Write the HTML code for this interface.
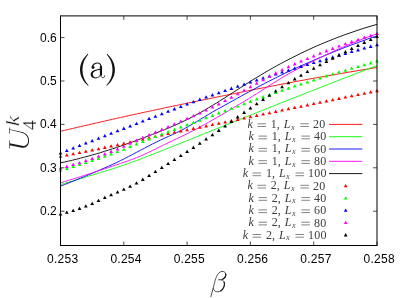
<!DOCTYPE html><html><head><meta charset="utf-8"><title>U4k</title><style>html,body{margin:0;padding:0;background:#fff}svg{display:block;will-change:transform}.sans{font-family:"Liberation Sans",sans-serif}.serif{font-family:"Liberation Serif",serif}</style></head><body><svg width="407" height="298" viewBox="0 0 407 298">
<polyline points="60.5,131.3 64.5,130.4 68.5,129.4 72.5,128.5 76.5,127.5 80.5,126.6 84.5,125.7 88.5,124.8 92.6,123.8 96.6,122.9 100.6,122.0 104.6,121.1 108.6,120.2 112.6,119.3 116.6,118.4 120.6,117.5 124.6,116.6 128.6,115.7 132.6,114.8 136.6,114.0 140.6,113.1 144.6,112.2 148.6,111.4 152.6,110.5 156.7,109.6 160.7,108.8 164.7,107.9 168.7,107.1 172.7,106.2 176.7,105.4 180.7,104.6 184.7,103.7 188.7,102.9 192.7,102.1 196.7,101.2 200.7,100.4 204.7,99.6 208.7,98.8 212.7,98.0 216.7,97.1 220.8,96.3 224.8,95.5 228.8,94.7 232.8,93.9 236.8,93.1 240.8,92.3 244.8,91.5 248.8,90.6 252.8,89.8 256.8,89.0 260.8,88.3 264.8,87.5 268.8,86.7 272.8,85.9 276.8,85.1 280.8,84.3 284.9,83.6 288.9,82.8 292.9,82.1 296.9,81.3 300.9,80.6 304.9,79.9 308.9,79.1 312.9,78.4 316.9,77.7 320.9,77.0 324.9,76.3 328.9,75.6 332.9,74.9 336.9,74.2 340.9,73.5 344.9,72.8 349.0,72.1 353.0,71.4 357.0,70.8 361.0,70.1 365.0,69.5 369.0,68.8 373.0,68.1 377.0,67.5" fill="none" stroke="#ff0000" stroke-width="0.9"/>
<polyline points="60.5,184.6 64.5,183.4 68.5,182.2 72.5,181.0 76.5,179.8 80.5,178.6 84.5,177.4 88.5,176.1 92.6,174.9 96.6,173.7 100.6,172.5 104.6,171.3 108.6,170.0 112.6,168.8 116.6,167.5 120.6,166.1 124.6,164.8 128.6,163.4 132.6,161.9 136.6,160.5 140.6,159.0 144.6,157.4 148.6,155.9 152.6,154.3 156.7,152.7 160.7,151.2 164.7,149.6 168.7,148.0 172.7,146.4 176.7,144.8 180.7,143.2 184.7,141.6 188.7,140.0 192.7,138.4 196.7,136.8 200.7,135.1 204.7,133.5 208.7,131.9 212.7,130.3 216.7,128.7 220.8,127.1 224.8,125.5 228.8,123.9 232.8,122.3 236.8,120.7 240.8,119.1 244.8,117.4 248.8,115.8 252.8,114.2 256.8,112.6 260.8,111.0 264.8,109.4 268.8,107.8 272.8,106.2 276.8,104.6 280.8,103.0 284.9,101.4 288.9,99.8 292.9,98.2 296.9,96.7 300.9,95.1 304.9,93.5 308.9,91.9 312.9,90.4 316.9,88.8 320.9,87.2 324.9,85.7 328.9,84.1 332.9,82.5 336.9,81.0 340.9,79.4 344.9,77.9 349.0,76.3 353.0,74.8 357.0,73.2 361.0,71.7 365.0,70.1 369.0,68.6 373.0,67.0 377.0,65.5" fill="none" stroke="#00ff00" stroke-width="0.9"/>
<polyline points="60.5,186.2 64.5,184.6 68.5,183.0 72.5,181.4 76.5,179.8 80.5,178.2 84.5,176.5 88.5,174.8 92.6,173.1 96.6,171.4 100.6,169.7 104.6,167.9 108.6,166.2 112.6,164.4 116.6,162.5 120.6,160.6 124.6,158.6 128.6,156.5 132.6,154.4 136.6,152.3 140.6,150.2 144.6,148.1 148.6,146.0 152.6,143.9 156.7,141.9 160.7,140.0 164.7,138.1 168.7,136.3 172.7,134.5 176.7,132.6 180.7,130.7 184.7,128.5 188.7,126.3 192.7,124.0 196.7,121.6 200.7,119.1 204.7,116.7 208.7,114.3 212.7,111.9 216.7,109.7 220.8,107.5 224.8,105.2 228.8,103.0 232.8,100.8 236.8,98.5 240.8,96.3 244.8,94.1 248.8,92.0 252.8,89.8 256.8,87.6 260.8,85.5 264.8,83.4 268.8,81.3 272.8,79.3 276.8,77.3 280.8,75.3 284.9,73.3 288.9,71.4 292.9,69.5 296.9,67.7 300.9,65.9 304.9,64.1 308.9,62.4 312.9,60.6 316.9,58.9 320.9,57.2 324.9,55.5 328.9,53.8 332.9,52.2 336.9,50.6 340.9,49.0 344.9,47.4 349.0,45.9 353.0,44.4 357.0,42.9 361.0,41.4 365.0,40.0 369.0,38.5 373.0,37.2 377.0,35.8" fill="none" stroke="#0000ff" stroke-width="0.9"/>
<polyline points="60.5,182.8 64.5,181.6 68.5,180.4 72.5,179.2 76.5,177.9 80.5,176.7 84.5,175.4 88.5,174.1 92.6,172.8 96.6,171.5 100.6,170.2 104.6,168.8 108.6,167.5 112.6,166.1 116.6,164.8 120.6,163.4 124.6,162.0 128.6,160.7 132.6,159.2 136.6,157.7 140.6,156.0 144.6,154.2 148.6,152.4 152.6,150.4 156.7,148.5 160.7,146.5 164.7,144.5 168.7,142.6 172.7,140.6 176.7,138.7 180.7,136.8 184.7,134.9 188.7,132.9 192.7,130.9 196.7,128.8 200.7,126.7 204.7,124.4 208.7,122.2 212.7,119.9 216.7,117.6 220.8,115.3 224.8,112.9 228.8,110.6 232.8,108.2 236.8,105.8 240.8,103.4 244.8,101.0 248.8,98.6 252.8,96.1 256.8,93.6 260.8,91.1 264.8,88.5 268.8,85.9 272.8,83.4 276.8,80.9 280.8,78.4 284.9,76.0 288.9,73.7 292.9,71.5 296.9,69.3 300.9,67.3 304.9,65.2 308.9,63.2 312.9,61.2 316.9,59.2 320.9,57.3 324.9,55.4 328.9,53.5 332.9,51.6 336.9,49.8 340.9,48.0 344.9,46.3 349.0,44.5 353.0,42.9 357.0,41.3 361.0,39.7 365.0,38.1 369.0,36.6 373.0,35.2 377.0,33.8" fill="none" stroke="#ff00ff" stroke-width="0.9"/>
<polyline points="60.5,162.8 64.5,162.0 68.5,161.1 72.5,160.2 76.5,159.2 80.5,158.2 84.5,157.1 88.5,156.0 92.6,154.9 96.6,153.8 100.6,152.6 104.6,151.3 108.6,150.1 112.6,148.8 116.6,147.5 120.6,146.1 124.6,144.7 128.6,143.3 132.6,141.9 136.6,140.4 140.6,138.9 144.6,137.4 148.6,135.9 152.6,134.4 156.7,132.8 160.7,131.2 164.7,129.6 168.7,127.9 172.7,126.2 176.7,124.4 180.7,122.6 184.7,120.7 188.7,118.8 192.7,116.7 196.7,114.6 200.7,112.4 204.7,110.1 208.7,107.7 212.7,105.3 216.7,102.9 220.8,100.3 224.8,97.8 228.8,95.2 232.8,92.6 236.8,90.1 240.8,87.5 244.8,84.9 248.8,82.4 252.8,79.8 256.8,77.4 260.8,75.0 264.8,72.6 268.8,70.3 272.8,68.0 276.8,65.7 280.8,63.6 284.9,61.4 288.9,59.3 292.9,57.3 296.9,55.3 300.9,53.3 304.9,51.4 308.9,49.5 312.9,47.7 316.9,45.9 320.9,44.2 324.9,42.5 328.9,40.9 332.9,39.3 336.9,37.7 340.9,36.2 344.9,34.7 349.0,33.3 353.0,31.9 357.0,30.5 361.0,29.2 365.0,27.9 369.0,26.7 373.0,25.5 377.0,24.4" fill="none" stroke="#000000" stroke-width="0.9"/>
<g><path d="M58.6 157.7L62.4 157.7L60.5 154.4Z" fill="#ff0000"/><path d="M64.9 156.5L68.7 156.5L66.8 153.2Z" fill="#ff0000"/><path d="M71.3 155.3L75.1 155.3L73.2 152.0Z" fill="#ff0000"/><path d="M77.6 154.0L81.4 154.0L79.5 150.7Z" fill="#ff0000"/><path d="M83.9 152.8L87.7 152.8L85.8 149.5Z" fill="#ff0000"/><path d="M90.2 151.5L94.1 151.5L92.2 148.2Z" fill="#ff0000"/><path d="M96.6 150.2L100.4 150.2L98.5 146.9Z" fill="#ff0000"/><path d="M102.9 148.9L106.7 148.9L104.8 145.6Z" fill="#ff0000"/><path d="M109.2 147.6L113.0 147.6L111.1 144.3Z" fill="#ff0000"/><path d="M115.6 146.3L119.4 146.3L117.5 143.0Z" fill="#ff0000"/><path d="M121.9 144.9L125.7 144.9L123.8 141.6Z" fill="#ff0000"/><path d="M128.2 143.6L132.0 143.6L130.1 140.3Z" fill="#ff0000"/><path d="M134.6 142.2L138.4 142.2L136.5 138.9Z" fill="#ff0000"/><path d="M140.9 140.8L144.7 140.8L142.8 137.5Z" fill="#ff0000"/><path d="M147.2 139.3L151.0 139.3L149.1 136.0Z" fill="#ff0000"/><path d="M153.5 137.9L157.3 137.9L155.4 134.6Z" fill="#ff0000"/><path d="M159.9 136.5L163.7 136.5L161.8 133.2Z" fill="#ff0000"/><path d="M166.2 135.1L170.0 135.1L168.1 131.8Z" fill="#ff0000"/><path d="M172.5 133.7L176.3 133.7L174.4 130.4Z" fill="#ff0000"/><path d="M178.9 132.5L182.7 132.5L180.8 129.2Z" fill="#ff0000"/><path d="M185.2 131.2L189.0 131.2L187.1 127.9Z" fill="#ff0000"/><path d="M191.5 129.9L195.3 129.9L193.4 126.6Z" fill="#ff0000"/><path d="M197.9 128.7L201.7 128.7L199.8 125.4Z" fill="#ff0000"/><path d="M204.2 127.4L208.0 127.4L206.1 124.1Z" fill="#ff0000"/><path d="M210.5 126.1L214.3 126.1L212.4 122.8Z" fill="#ff0000"/><path d="M216.8 124.8L220.7 124.8L218.8 121.5Z" fill="#ff0000"/><path d="M223.2 123.5L227.0 123.5L225.1 120.2Z" fill="#ff0000"/><path d="M229.5 122.2L233.3 122.2L231.4 118.9Z" fill="#ff0000"/><path d="M235.8 120.9L239.6 120.9L237.7 117.6Z" fill="#ff0000"/><path d="M242.2 119.5L246.0 119.5L244.1 116.2Z" fill="#ff0000"/><path d="M248.5 118.2L252.3 118.2L250.4 114.9Z" fill="#ff0000"/><path d="M254.8 116.9L258.6 116.9L256.7 113.6Z" fill="#ff0000"/><path d="M261.2 115.6L265.0 115.6L263.1 112.3Z" fill="#ff0000"/><path d="M267.5 114.2L271.3 114.2L269.4 110.9Z" fill="#ff0000"/><path d="M273.8 112.9L277.6 112.9L275.7 109.6Z" fill="#ff0000"/><path d="M280.2 111.6L283.9 111.6L282.1 108.3Z" fill="#ff0000"/><path d="M286.5 110.3L290.3 110.3L288.4 107.0Z" fill="#ff0000"/><path d="M292.8 109.0L296.6 109.0L294.7 105.7Z" fill="#ff0000"/><path d="M299.1 107.7L302.9 107.7L301.0 104.4Z" fill="#ff0000"/><path d="M305.5 106.4L309.3 106.4L307.4 103.1Z" fill="#ff0000"/><path d="M311.8 105.1L315.6 105.1L313.7 101.8Z" fill="#ff0000"/><path d="M318.1 103.8L321.9 103.8L320.0 100.5Z" fill="#ff0000"/><path d="M324.5 102.5L328.3 102.5L326.4 99.2Z" fill="#ff0000"/><path d="M330.8 101.2L334.6 101.2L332.7 97.9Z" fill="#ff0000"/><path d="M337.1 99.9L340.9 99.9L339.0 96.6Z" fill="#ff0000"/><path d="M343.5 98.6L347.2 98.6L345.4 95.3Z" fill="#ff0000"/><path d="M349.8 97.3L353.6 97.3L351.7 94.0Z" fill="#ff0000"/><path d="M356.1 96.0L359.9 96.0L358.0 92.7Z" fill="#ff0000"/><path d="M362.4 94.8L366.2 94.8L364.3 91.5Z" fill="#ff0000"/><path d="M368.8 93.5L372.6 93.5L370.7 90.2Z" fill="#ff0000"/><path d="M375.1 92.2L378.9 92.2L377.0 88.9Z" fill="#ff0000"/></g>
<g><path d="M58.6 171.6L62.4 171.6L60.5 168.3Z" fill="#00ff00"/><path d="M64.9 169.9L68.7 169.9L66.8 166.6Z" fill="#00ff00"/><path d="M71.3 168.0L75.1 168.0L73.2 164.7Z" fill="#00ff00"/><path d="M77.6 166.1L81.4 166.1L79.5 162.8Z" fill="#00ff00"/><path d="M83.9 164.1L87.7 164.1L85.8 160.8Z" fill="#00ff00"/><path d="M90.2 162.0L94.1 162.0L92.2 158.7Z" fill="#00ff00"/><path d="M96.6 159.9L100.4 159.9L98.5 156.6Z" fill="#00ff00"/><path d="M102.9 157.7L106.7 157.7L104.8 154.4Z" fill="#00ff00"/><path d="M109.2 155.4L113.0 155.4L111.1 152.1Z" fill="#00ff00"/><path d="M115.6 153.1L119.4 153.1L117.5 149.8Z" fill="#00ff00"/><path d="M121.9 150.7L125.7 150.7L123.8 147.4Z" fill="#00ff00"/><path d="M128.2 148.1L132.0 148.1L130.1 144.8Z" fill="#00ff00"/><path d="M134.6 145.6L138.4 145.6L136.5 142.3Z" fill="#00ff00"/><path d="M140.9 143.0L144.7 143.0L142.8 139.7Z" fill="#00ff00"/><path d="M147.2 140.4L151.0 140.4L149.1 137.1Z" fill="#00ff00"/><path d="M153.5 138.0L157.3 138.0L155.4 134.7Z" fill="#00ff00"/><path d="M159.9 135.6L163.7 135.6L161.8 132.3Z" fill="#00ff00"/><path d="M166.2 133.2L170.0 133.2L168.1 129.9Z" fill="#00ff00"/><path d="M172.5 130.9L176.3 130.9L174.4 127.6Z" fill="#00ff00"/><path d="M178.9 128.6L182.7 128.6L180.8 125.3Z" fill="#00ff00"/><path d="M185.2 126.3L189.0 126.3L187.1 123.0Z" fill="#00ff00"/><path d="M191.5 124.0L195.3 124.0L193.4 120.7Z" fill="#00ff00"/><path d="M197.9 121.7L201.7 121.7L199.8 118.4Z" fill="#00ff00"/><path d="M204.2 119.3L208.0 119.3L206.1 116.0Z" fill="#00ff00"/><path d="M210.5 117.0L214.3 117.0L212.4 113.7Z" fill="#00ff00"/><path d="M216.8 114.6L220.7 114.6L218.8 111.3Z" fill="#00ff00"/><path d="M223.2 112.2L227.0 112.2L225.1 108.9Z" fill="#00ff00"/><path d="M229.5 109.8L233.3 109.8L231.4 106.5Z" fill="#00ff00"/><path d="M235.8 107.5L239.6 107.5L237.7 104.2Z" fill="#00ff00"/><path d="M242.2 105.2L246.0 105.2L244.1 101.9Z" fill="#00ff00"/><path d="M248.5 102.9L252.3 102.9L250.4 99.6Z" fill="#00ff00"/><path d="M254.8 100.6L258.6 100.6L256.7 97.3Z" fill="#00ff00"/><path d="M261.2 98.4L265.0 98.4L263.1 95.1Z" fill="#00ff00"/><path d="M267.5 96.2L271.3 96.2L269.4 92.9Z" fill="#00ff00"/><path d="M273.8 94.0L277.6 94.0L275.7 90.7Z" fill="#00ff00"/><path d="M280.2 91.8L283.9 91.8L282.1 88.5Z" fill="#00ff00"/><path d="M286.5 89.7L290.3 89.7L288.4 86.4Z" fill="#00ff00"/><path d="M292.8 87.6L296.6 87.6L294.7 84.3Z" fill="#00ff00"/><path d="M299.1 85.5L302.9 85.5L301.0 82.2Z" fill="#00ff00"/><path d="M305.5 83.5L309.3 83.5L307.4 80.2Z" fill="#00ff00"/><path d="M311.8 81.4L315.6 81.4L313.7 78.1Z" fill="#00ff00"/><path d="M318.1 79.5L321.9 79.5L320.0 76.2Z" fill="#00ff00"/><path d="M324.5 77.5L328.3 77.5L326.4 74.2Z" fill="#00ff00"/><path d="M330.8 75.5L334.6 75.5L332.7 72.2Z" fill="#00ff00"/><path d="M337.1 73.6L340.9 73.6L339.0 70.3Z" fill="#00ff00"/><path d="M343.5 71.7L347.2 71.7L345.4 68.4Z" fill="#00ff00"/><path d="M349.8 69.8L353.6 69.8L351.7 66.5Z" fill="#00ff00"/><path d="M356.1 68.0L359.9 68.0L358.0 64.7Z" fill="#00ff00"/><path d="M362.4 66.2L366.2 66.2L364.3 62.9Z" fill="#00ff00"/><path d="M368.8 64.4L372.6 64.4L370.7 61.1Z" fill="#00ff00"/><path d="M375.1 62.6L378.9 62.6L377.0 59.3Z" fill="#00ff00"/></g>
<g><path d="M58.6 154.6L62.4 154.6L60.5 151.3Z" fill="#0000ff"/><path d="M64.9 152.1L68.7 152.1L66.8 148.8Z" fill="#0000ff"/><path d="M71.3 149.6L75.1 149.6L73.2 146.3Z" fill="#0000ff"/><path d="M77.6 147.1L81.4 147.1L79.5 143.8Z" fill="#0000ff"/><path d="M83.9 144.6L87.7 144.6L85.8 141.3Z" fill="#0000ff"/><path d="M90.2 142.2L94.1 142.2L92.2 138.9Z" fill="#0000ff"/><path d="M96.6 139.7L100.4 139.7L98.5 136.4Z" fill="#0000ff"/><path d="M102.9 137.2L106.7 137.2L104.8 133.9Z" fill="#0000ff"/><path d="M109.2 134.8L113.0 134.8L111.1 131.5Z" fill="#0000ff"/><path d="M115.6 132.3L119.4 132.3L117.5 129.0Z" fill="#0000ff"/><path d="M121.9 129.9L125.7 129.9L123.8 126.6Z" fill="#0000ff"/><path d="M128.2 127.5L132.0 127.5L130.1 124.2Z" fill="#0000ff"/><path d="M134.6 125.0L138.4 125.0L136.5 121.7Z" fill="#0000ff"/><path d="M140.9 122.6L144.7 122.6L142.8 119.3Z" fill="#0000ff"/><path d="M147.2 120.1L151.0 120.1L149.1 116.8Z" fill="#0000ff"/><path d="M153.5 117.7L157.3 117.7L155.4 114.4Z" fill="#0000ff"/><path d="M159.9 115.2L163.7 115.2L161.8 111.9Z" fill="#0000ff"/><path d="M166.2 112.8L170.0 112.8L168.1 109.5Z" fill="#0000ff"/><path d="M172.5 110.4L176.3 110.4L174.4 107.1Z" fill="#0000ff"/><path d="M178.9 108.0L182.7 108.0L180.8 104.7Z" fill="#0000ff"/><path d="M185.2 105.6L189.0 105.6L187.1 102.3Z" fill="#0000ff"/><path d="M191.5 103.2L195.3 103.2L193.4 99.9Z" fill="#0000ff"/><path d="M197.9 100.9L201.7 100.9L199.8 97.6Z" fill="#0000ff"/><path d="M204.2 98.6L208.0 98.6L206.1 95.3Z" fill="#0000ff"/><path d="M210.5 96.4L214.3 96.4L212.4 93.1Z" fill="#0000ff"/><path d="M216.8 94.2L220.7 94.2L218.8 90.9Z" fill="#0000ff"/><path d="M223.2 92.0L227.0 92.0L225.1 88.7Z" fill="#0000ff"/><path d="M229.5 89.9L233.3 89.9L231.4 86.6Z" fill="#0000ff"/><path d="M235.8 87.8L239.6 87.8L237.7 84.5Z" fill="#0000ff"/><path d="M242.2 85.7L246.0 85.7L244.1 82.4Z" fill="#0000ff"/><path d="M248.5 83.6L252.3 83.6L250.4 80.3Z" fill="#0000ff"/><path d="M254.8 81.6L258.6 81.6L256.7 78.3Z" fill="#0000ff"/><path d="M261.2 79.6L265.0 79.6L263.1 76.3Z" fill="#0000ff"/><path d="M267.5 77.6L271.3 77.6L269.4 74.3Z" fill="#0000ff"/><path d="M273.8 75.6L277.6 75.6L275.7 72.3Z" fill="#0000ff"/><path d="M280.2 73.6L283.9 73.6L282.1 70.3Z" fill="#0000ff"/><path d="M286.5 71.7L290.3 71.7L288.4 68.4Z" fill="#0000ff"/><path d="M292.8 69.8L296.6 69.8L294.7 66.5Z" fill="#0000ff"/><path d="M299.1 67.9L302.9 67.9L301.0 64.6Z" fill="#0000ff"/><path d="M305.5 66.0L309.3 66.0L307.4 62.7Z" fill="#0000ff"/><path d="M311.8 64.1L315.6 64.1L313.7 60.8Z" fill="#0000ff"/><path d="M318.1 62.2L321.9 62.2L320.0 58.9Z" fill="#0000ff"/><path d="M324.5 60.4L328.3 60.4L326.4 57.1Z" fill="#0000ff"/><path d="M330.8 58.5L334.6 58.5L332.7 55.2Z" fill="#0000ff"/><path d="M337.1 56.7L340.9 56.7L339.0 53.4Z" fill="#0000ff"/><path d="M343.5 54.9L347.2 54.9L345.4 51.6Z" fill="#0000ff"/><path d="M349.8 53.1L353.6 53.1L351.7 49.8Z" fill="#0000ff"/><path d="M356.1 51.4L359.9 51.4L358.0 48.1Z" fill="#0000ff"/><path d="M362.4 49.6L366.2 49.6L364.3 46.3Z" fill="#0000ff"/><path d="M368.8 47.9L372.6 47.9L370.7 44.6Z" fill="#0000ff"/><path d="M375.1 46.2L378.9 46.2L377.0 42.9Z" fill="#0000ff"/></g>
<g><path d="M58.6 169.5L62.4 169.5L60.5 166.2Z" fill="#ff00ff"/><path d="M64.9 167.9L68.7 167.9L66.8 164.6Z" fill="#ff00ff"/><path d="M71.3 166.1L75.1 166.1L73.2 162.8Z" fill="#ff00ff"/><path d="M77.6 164.2L81.4 164.2L79.5 160.9Z" fill="#ff00ff"/><path d="M83.9 162.1L87.7 162.1L85.8 158.8Z" fill="#ff00ff"/><path d="M90.2 160.0L94.1 160.0L92.2 156.7Z" fill="#ff00ff"/><path d="M96.6 157.7L100.4 157.7L98.5 154.4Z" fill="#ff00ff"/><path d="M102.9 155.4L106.7 155.4L104.8 152.1Z" fill="#ff00ff"/><path d="M109.2 153.0L113.0 153.0L111.1 149.7Z" fill="#ff00ff"/><path d="M115.6 150.5L119.4 150.5L117.5 147.2Z" fill="#ff00ff"/><path d="M121.9 147.8L125.7 147.8L123.8 144.5Z" fill="#ff00ff"/><path d="M128.2 144.8L132.0 144.8L130.1 141.5Z" fill="#ff00ff"/><path d="M134.6 141.9L138.4 141.9L136.5 138.6Z" fill="#ff00ff"/><path d="M140.9 139.1L144.7 139.1L142.8 135.8Z" fill="#ff00ff"/><path d="M147.2 136.3L151.0 136.3L149.1 133.0Z" fill="#ff00ff"/><path d="M153.5 133.6L157.3 133.6L155.4 130.3Z" fill="#ff00ff"/><path d="M159.9 130.9L163.7 130.9L161.8 127.6Z" fill="#ff00ff"/><path d="M166.2 128.2L170.0 128.2L168.1 124.9Z" fill="#ff00ff"/><path d="M172.5 125.5L176.3 125.5L174.4 122.2Z" fill="#ff00ff"/><path d="M178.9 122.8L182.7 122.8L180.8 119.5Z" fill="#ff00ff"/><path d="M185.2 120.0L189.0 120.0L187.1 116.7Z" fill="#ff00ff"/><path d="M191.5 117.2L195.3 117.2L193.4 113.9Z" fill="#ff00ff"/><path d="M197.9 114.4L201.7 114.4L199.8 111.1Z" fill="#ff00ff"/><path d="M204.2 111.5L208.0 111.5L206.1 108.2Z" fill="#ff00ff"/><path d="M210.5 108.5L214.3 108.5L212.4 105.2Z" fill="#ff00ff"/><path d="M216.8 105.4L220.7 105.4L218.8 102.1Z" fill="#ff00ff"/><path d="M223.2 102.1L227.0 102.1L225.1 98.8Z" fill="#ff00ff"/><path d="M229.5 98.7L233.3 98.7L231.4 95.4Z" fill="#ff00ff"/><path d="M235.8 95.3L239.6 95.3L237.7 92.0Z" fill="#ff00ff"/><path d="M242.2 91.8L246.0 91.8L244.1 88.5Z" fill="#ff00ff"/><path d="M248.5 88.2L252.3 88.2L250.4 84.9Z" fill="#ff00ff"/><path d="M254.8 84.7L258.6 84.7L256.7 81.4Z" fill="#ff00ff"/><path d="M261.2 81.2L265.0 81.2L263.1 77.9Z" fill="#ff00ff"/><path d="M267.5 77.8L271.3 77.8L269.4 74.5Z" fill="#ff00ff"/><path d="M273.8 74.4L277.6 74.4L275.7 71.1Z" fill="#ff00ff"/><path d="M280.2 71.2L283.9 71.2L282.1 67.9Z" fill="#ff00ff"/><path d="M286.5 68.2L290.3 68.2L288.4 64.9Z" fill="#ff00ff"/><path d="M292.8 65.4L296.6 65.4L294.7 62.1Z" fill="#ff00ff"/><path d="M299.1 62.6L302.9 62.6L301.0 59.3Z" fill="#ff00ff"/><path d="M305.5 60.0L309.3 60.0L307.4 56.7Z" fill="#ff00ff"/><path d="M311.8 57.4L315.6 57.4L313.7 54.1Z" fill="#ff00ff"/><path d="M318.1 54.8L321.9 54.8L320.0 51.5Z" fill="#ff00ff"/><path d="M324.5 52.4L328.3 52.4L326.4 49.1Z" fill="#ff00ff"/><path d="M330.8 49.9L334.6 49.9L332.7 46.6Z" fill="#ff00ff"/><path d="M337.1 47.6L340.9 47.6L339.0 44.3Z" fill="#ff00ff"/><path d="M343.5 45.3L347.2 45.3L345.4 42.0Z" fill="#ff00ff"/><path d="M349.8 43.1L353.6 43.1L351.7 39.8Z" fill="#ff00ff"/><path d="M356.1 41.0L359.9 41.0L358.0 37.7Z" fill="#ff00ff"/><path d="M362.4 38.9L366.2 38.9L364.3 35.6Z" fill="#ff00ff"/><path d="M368.8 37.0L372.6 37.0L370.7 33.7Z" fill="#ff00ff"/><path d="M375.1 35.1L378.9 35.1L377.0 31.8Z" fill="#ff00ff"/></g>
<g><path d="M58.6 215.5L62.4 215.5L60.5 212.2Z" fill="#000000"/><path d="M64.9 213.7L68.7 213.7L66.8 210.4Z" fill="#000000"/><path d="M71.3 212.0L75.1 212.0L73.2 208.7Z" fill="#000000"/><path d="M77.6 209.9L81.4 209.9L79.5 206.6Z" fill="#000000"/><path d="M83.9 207.6L87.7 207.6L85.8 204.3Z" fill="#000000"/><path d="M90.2 205.0L94.1 205.0L92.2 201.7Z" fill="#000000"/><path d="M96.6 202.0L100.4 202.0L98.5 198.7Z" fill="#000000"/><path d="M102.9 199.1L106.7 199.1L104.8 195.8Z" fill="#000000"/><path d="M109.2 196.3L113.0 196.3L111.1 193.0Z" fill="#000000"/><path d="M115.6 193.5L119.4 193.5L117.5 190.2Z" fill="#000000"/><path d="M121.9 190.7L125.7 190.7L123.8 187.4Z" fill="#000000"/><path d="M128.2 187.7L132.0 187.7L130.1 184.4Z" fill="#000000"/><path d="M134.6 184.5L138.4 184.5L136.5 181.2Z" fill="#000000"/><path d="M140.9 180.9L144.7 180.9L142.8 177.6Z" fill="#000000"/><path d="M147.2 177.1L151.0 177.1L149.1 173.8Z" fill="#000000"/><path d="M153.5 173.1L157.3 173.1L155.4 169.8Z" fill="#000000"/><path d="M159.9 169.1L163.7 169.1L161.8 165.8Z" fill="#000000"/><path d="M166.2 165.0L170.0 165.0L168.1 161.7Z" fill="#000000"/><path d="M172.5 161.0L176.3 161.0L174.4 157.7Z" fill="#000000"/><path d="M178.9 157.0L182.7 157.0L180.8 153.7Z" fill="#000000"/><path d="M185.2 153.0L189.0 153.0L187.1 149.7Z" fill="#000000"/><path d="M191.5 148.9L195.3 148.9L193.4 145.6Z" fill="#000000"/><path d="M197.9 144.7L201.7 144.7L199.8 141.4Z" fill="#000000"/><path d="M204.2 140.5L208.0 140.5L206.1 137.2Z" fill="#000000"/><path d="M210.5 136.3L214.3 136.3L212.4 133.0Z" fill="#000000"/><path d="M216.8 131.9L220.7 131.9L218.8 128.6Z" fill="#000000"/><path d="M223.2 127.5L227.0 127.5L225.1 124.2Z" fill="#000000"/><path d="M229.5 122.9L233.3 122.9L231.4 119.6Z" fill="#000000"/><path d="M235.8 118.4L239.6 118.4L237.7 115.1Z" fill="#000000"/><path d="M242.2 113.9L246.0 113.9L244.1 110.6Z" fill="#000000"/><path d="M248.5 109.5L252.3 109.5L250.4 106.2Z" fill="#000000"/><path d="M254.8 105.2L258.6 105.2L256.7 101.9Z" fill="#000000"/><path d="M261.2 100.9L265.0 100.9L263.1 97.6Z" fill="#000000"/><path d="M267.5 96.7L271.3 96.7L269.4 93.4Z" fill="#000000"/><path d="M273.8 92.5L277.6 92.5L275.7 89.2Z" fill="#000000"/><path d="M280.2 88.3L283.9 88.3L282.1 85.0Z" fill="#000000"/><path d="M286.5 84.3L290.3 84.3L288.4 81.0Z" fill="#000000"/><path d="M292.8 80.4L296.6 80.4L294.7 77.1Z" fill="#000000"/><path d="M299.1 76.7L302.9 76.7L301.0 73.4Z" fill="#000000"/><path d="M305.5 73.1L309.3 73.1L307.4 69.8Z" fill="#000000"/><path d="M311.8 69.7L315.6 69.7L313.7 66.4Z" fill="#000000"/><path d="M318.1 66.3L321.9 66.3L320.0 63.0Z" fill="#000000"/><path d="M324.5 63.0L328.3 63.0L326.4 59.7Z" fill="#000000"/><path d="M330.8 59.7L334.6 59.7L332.7 56.4Z" fill="#000000"/><path d="M337.1 56.4L340.9 56.4L339.0 53.1Z" fill="#000000"/><path d="M343.5 53.2L347.2 53.2L345.4 49.9Z" fill="#000000"/><path d="M349.8 50.0L353.6 50.0L351.7 46.7Z" fill="#000000"/><path d="M356.1 46.9L359.9 46.9L358.0 43.6Z" fill="#000000"/><path d="M362.4 43.9L366.2 43.9L364.3 40.6Z" fill="#000000"/><path d="M368.8 41.0L372.6 41.0L370.7 37.7Z" fill="#000000"/><path d="M375.1 38.1L378.9 38.1L377.0 34.8Z" fill="#000000"/></g>
<path d="M60.5 245.5v-4M60.5 15.9v4M123.8 245.5v-4M123.8 15.9v4M187.1 245.5v-4M187.1 15.9v4M250.4 245.5v-4M250.4 15.9v4M313.7 245.5v-4M313.7 15.9v4M377.0 245.5v-4M377.0 15.9v4M60.5 211.2h4M377.0 211.2h-4M60.5 167.8h4M377.0 167.8h-4M60.5 124.4h4M377.0 124.4h-4M60.5 81.0h4M377.0 81.0h-4M60.5 37.6h4M377.0 37.6h-4" stroke="#222" stroke-width="0.8" fill="none"/>
<rect x="60.5" y="15.9" width="316.5" height="229.6" fill="none" stroke="#000" stroke-width="1"/>
<g class="sans" font-size="12" fill="#000">
<text x="47.1" y="262.6" letter-spacing="0.25">0.253</text>
<text x="110.4" y="262.6" letter-spacing="0.25">0.254</text>
<text x="173.7" y="262.6" letter-spacing="0.25">0.255</text>
<text x="237.0" y="262.6" letter-spacing="0.25">0.256</text>
<text x="300.3" y="262.6" letter-spacing="0.25">0.257</text>
<text x="363.6" y="262.6" letter-spacing="0.25">0.258</text>
<text x="56.7" y="215.1" text-anchor="end">0.2</text>
<text x="56.7" y="171.7" text-anchor="end">0.3</text>
<text x="56.7" y="128.3" text-anchor="end">0.4</text>
<text x="56.7" y="84.9" text-anchor="end">0.5</text>
<text x="56.7" y="41.5" text-anchor="end">0.6</text>
</g>
<g transform="translate(76,50) scale(0.13423)" fill="#111" stroke="none"><path d="M88,28 C53,60 30,100 30,148 C30,196 53,236 90,267 L94,263 C64,232 48,194 48,148 C48,102 64,64 92,32 Z"/><path d="M232,28 C267,60 290,100 290,148 C290,196 267,236 230,267 L226,263 C256,232 272,194 272,148 C272,102 256,64 228,32 Z"/><circle cx="127" cy="130" r="11"/><path d="M121,128 C123,106 146,96 162,97 C181,98 188,112 188,135" fill="none" stroke="#111" stroke-width="9"/><path d="M186,120 L186,190" fill="none" stroke="#111" stroke-width="16"/><path d="M184,186 C186,203 196,208 203,206 C210,204 214,198 215,189" fill="none" stroke="#111" stroke-width="6"/><path fill-rule="evenodd" d="M183,140 C140,145 109,158 109,181 C109,199 126,212 146,212 C162,212 176,202 183,189 Z M183,148 C150,152 125,162 125,181 C125,196 135,205 148,205 C163,205 183,192 183,170 Z"/></g>
<g transform="translate(200,266) scale(0.10753)" fill="none" stroke="#1a1a1a" stroke-linecap="round" stroke-linejoin="round"><path d="M101,285 C110,250 122,210 132,170 C142,125 160,55 205,50 C232,48 245,70 238,92 C233,110 218,124 196,128 L172,128 M196,128 C219,132 231,150 228,175 C224,205 198,238 165,240 C140,241 126,228 124,210" stroke-width="7"/><path d="M239,72 C243,92 230,112 212,122 M225,150 C234,175 219,215 193,232" stroke-width="11"/></g>
<g transform="translate(9.04,147.8) rotate(-90) scale(0.131,0.137)" fill="#1a1a1a"><path d="M20,4 L34,4 L15,95 C10,122 28,139 56,139 C86,139 108,118 115,93 L137,4 L142,4 L121,95 C113,125 90,146 55,146 C18,146 -5,126 1,95 Z"/><path d="M-5,0 L57,0 L57,4.5 L-5,4.5 Z M108,0 L155,0 L155,4.5 L108,4.5 Z"/></g>
<g transform="translate(29.2,148.3) rotate(-90)" class="serif" fill="#1a1a1a" stroke="#fff" stroke-width="0.3" paint-order="fill stroke"><text x="18.3" y="7" font-size="19.5">4</text><text transform="translate(22.0,-10.6) scale(1.2,1)" font-size="19.5" font-style="italic">k</text></g>
<g class="serif" font-size="12" fill="#3c3c3c">
<text x="247.6" y="127.8" font-style="italic">k</text><path d="M257.5 123.8h8.5M257.5 126.5h8.5" stroke="#505050" stroke-width="0.7"/><text x="270.8" y="127.8">1,</text><text x="283.8" y="127.8" font-style="italic">L</text><text x="291.2" y="129.6" font-style="italic" font-size="7.5">x</text><path d="M300.4 123.8h8.5M300.4 126.5h8.5" stroke="#505050" stroke-width="0.7"/><text x="313.0" y="128.1" letter-spacing="0.2">20</text>
<path d="M329 124.4H362.3" stroke="#ff0000" stroke-width="0.9"/>
<text x="248.6" y="140.1" font-style="italic">k</text><path d="M258.5 136.1h8.5M258.5 138.8h8.5" stroke="#505050" stroke-width="0.7"/><text x="271.8" y="140.1">1,</text><text x="284.8" y="140.1" font-style="italic">L</text><text x="292.2" y="141.9" font-style="italic" font-size="7.5">x</text><path d="M301.4 136.1h8.5M301.4 138.8h8.5" stroke="#505050" stroke-width="0.7"/><text x="314.0" y="140.4" letter-spacing="0.2">40</text>
<path d="M329 136.7H362.3" stroke="#00ff00" stroke-width="0.9"/>
<text x="248.6" y="152.4" font-style="italic">k</text><path d="M258.5 148.4h8.5M258.5 151.1h8.5" stroke="#505050" stroke-width="0.7"/><text x="271.8" y="152.4">1,</text><text x="284.8" y="152.4" font-style="italic">L</text><text x="292.2" y="154.2" font-style="italic" font-size="7.5">x</text><path d="M301.4 148.4h8.5M301.4 151.1h8.5" stroke="#505050" stroke-width="0.7"/><text x="314.0" y="152.7" letter-spacing="0.2">60</text>
<path d="M329 149.0H362.3" stroke="#0000ff" stroke-width="0.9"/>
<text x="248.6" y="164.7" font-style="italic">k</text><path d="M258.5 160.7h8.5M258.5 163.4h8.5" stroke="#505050" stroke-width="0.7"/><text x="271.8" y="164.7">1,</text><text x="284.8" y="164.7" font-style="italic">L</text><text x="292.2" y="166.5" font-style="italic" font-size="7.5">x</text><path d="M301.4 160.7h8.5M301.4 163.4h8.5" stroke="#505050" stroke-width="0.7"/><text x="314.0" y="165.0" letter-spacing="0.2">80</text>
<path d="M329 161.3H362.3" stroke="#ff00ff" stroke-width="0.9"/>
<text x="242.7" y="177.0" font-style="italic">k</text><path d="M252.6 173.0h8.5M252.6 175.7h8.5" stroke="#505050" stroke-width="0.7"/><text x="265.9" y="177.0">1,</text><text x="278.9" y="177.0" font-style="italic">L</text><text x="286.3" y="178.8" font-style="italic" font-size="7.5">x</text><path d="M295.5 173.0h8.5M295.5 175.7h8.5" stroke="#505050" stroke-width="0.7"/><text x="308.1" y="177.3" letter-spacing="0.2">100</text>
<path d="M329 173.6H362.3" stroke="#000000" stroke-width="0.9"/>
<text x="247.6" y="189.3" font-style="italic">k</text><path d="M257.5 185.3h8.5M257.5 188.0h8.5" stroke="#505050" stroke-width="0.7"/><text x="270.8" y="189.3">2,</text><text x="283.8" y="189.3" font-style="italic">L</text><text x="291.2" y="191.1" font-style="italic" font-size="7.5">x</text><path d="M300.4 185.3h8.5M300.4 188.0h8.5" stroke="#505050" stroke-width="0.7"/><text x="313.0" y="189.6" letter-spacing="0.2">20</text>
<path d="M343.8 187.2L347.6 187.2L345.7 183.9Z" fill="#ff0000"/>
<text x="248.6" y="201.6" font-style="italic">k</text><path d="M258.5 197.6h8.5M258.5 200.3h8.5" stroke="#505050" stroke-width="0.7"/><text x="271.8" y="201.6">2,</text><text x="284.8" y="201.6" font-style="italic">L</text><text x="292.2" y="203.4" font-style="italic" font-size="7.5">x</text><path d="M301.4 197.6h8.5M301.4 200.3h8.5" stroke="#505050" stroke-width="0.7"/><text x="314.0" y="201.9" letter-spacing="0.2">40</text>
<path d="M343.8 199.5L347.6 199.5L345.7 196.2Z" fill="#00ff00"/>
<text x="248.6" y="213.9" font-style="italic">k</text><path d="M258.5 209.9h8.5M258.5 212.6h8.5" stroke="#505050" stroke-width="0.7"/><text x="271.8" y="213.9">2,</text><text x="284.8" y="213.9" font-style="italic">L</text><text x="292.2" y="215.7" font-style="italic" font-size="7.5">x</text><path d="M301.4 209.9h8.5M301.4 212.6h8.5" stroke="#505050" stroke-width="0.7"/><text x="314.0" y="214.2" letter-spacing="0.2">60</text>
<path d="M343.8 211.8L347.6 211.8L345.7 208.5Z" fill="#0000ff"/>
<text x="248.6" y="226.2" font-style="italic">k</text><path d="M258.5 222.2h8.5M258.5 224.9h8.5" stroke="#505050" stroke-width="0.7"/><text x="271.8" y="226.2">2,</text><text x="284.8" y="226.2" font-style="italic">L</text><text x="292.2" y="228.0" font-style="italic" font-size="7.5">x</text><path d="M301.4 222.2h8.5M301.4 224.9h8.5" stroke="#505050" stroke-width="0.7"/><text x="314.0" y="226.5" letter-spacing="0.2">80</text>
<path d="M343.8 224.1L347.6 224.1L345.7 220.8Z" fill="#ff00ff"/>
<text x="242.7" y="238.5" font-style="italic">k</text><path d="M252.6 234.5h8.5M252.6 237.2h8.5" stroke="#505050" stroke-width="0.7"/><text x="265.9" y="238.5">2,</text><text x="278.9" y="238.5" font-style="italic">L</text><text x="286.3" y="240.3" font-style="italic" font-size="7.5">x</text><path d="M295.5 234.5h8.5M295.5 237.2h8.5" stroke="#505050" stroke-width="0.7"/><text x="308.1" y="238.8" letter-spacing="0.2">100</text>
<path d="M343.8 236.4L347.6 236.4L345.7 233.1Z" fill="#000000"/>
</g>
</svg></body></html>
